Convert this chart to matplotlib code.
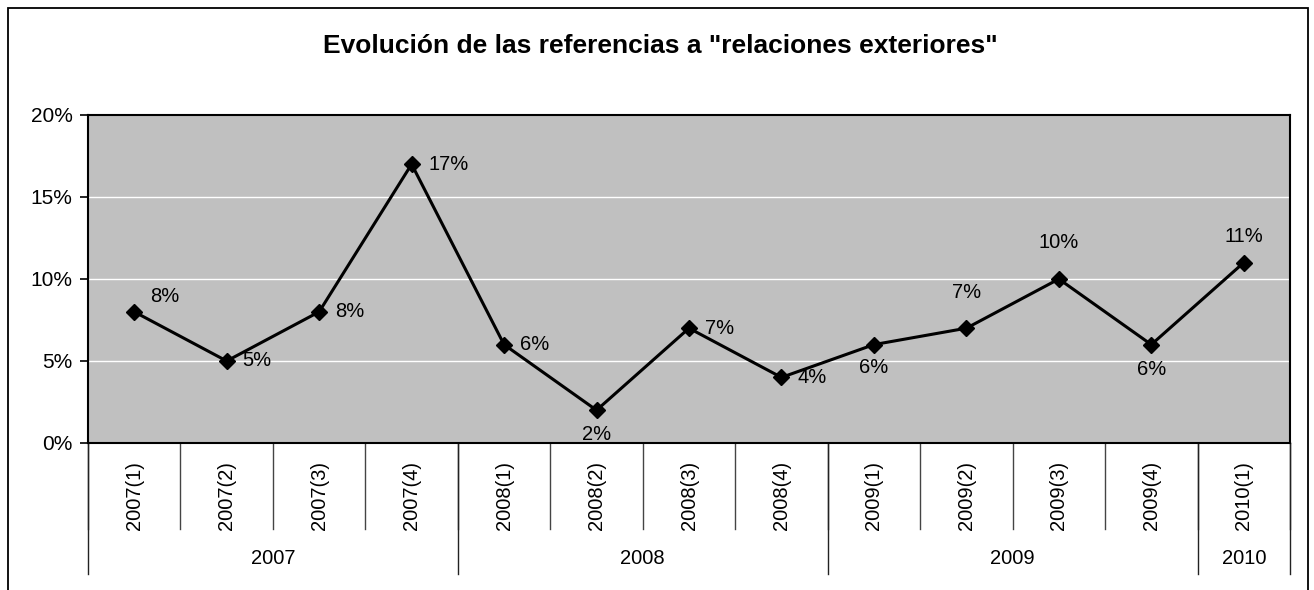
import matplotlib
matplotlib.use("Agg")
import matplotlib.pyplot as plt
from matplotlib.lines import Line2D
from matplotlib.patches import Rectangle
from matplotlib.ticker import FuncFormatter

plt.rcParams['font.family'] = ['Liberation Sans', 'DejaVu Sans']

# -----------------------------
# Data
# -----------------------------
quarters = ['2007(1)', '2007(2)', '2007(3)', '2007(4)',
            '2008(1)', '2008(2)', '2008(3)', '2008(4)',
            '2009(1)', '2009(2)', '2009(3)', '2009(4)',
            '2010(1)']
values = [8, 5, 8, 17, 6, 2, 7, 4, 6, 7, 10, 6, 11]
years = ['2007', '2008', '2009', '2010']
year_counts = [4, 4, 4, 1]
# label placement relative to each point (pixels)
label_offsets = [(31, 15), (30, 0), (31, 0), (37, 0), (31, 0), (0, -24), (31, 0),
                 (31, 0), (0, -23), (0, 36), (0, 37), (0, -25), (0, 26)]

W, H = 1314, 590
fig = plt.figure(figsize=(W / 100, H / 100), dpi=100)
fig.patch.set_facecolor('white')

# outer chart frame
fig.patches.append(Rectangle((8 / W, -0.05), (1308 - 8) / W, 1.05 - 8 / H,
                             transform=fig.transFigure, fill=False,
                             edgecolor='black', linewidth=1.3))

left, right, top, bottom = 88, 1290, 115, 443
ax = fig.add_axes([left / W, 1 - bottom / H, (right - left) / W, (bottom - top) / H])
ax.set_facecolor('#C0C0C0')

x = list(range(len(quarters)))
ax.plot(x, values, color='black', linewidth=2.2, marker='D', markersize=8.5,
        markerfacecolor='black', markeredgecolor='black', zorder=3)

for xi, v, (dx, dy) in zip(x, values, label_offsets):
    ax.annotate(f"{v}%", (xi, v), xytext=(dx, dy), textcoords='offset pixels',
                ha='center', va='center', fontsize=14.5, color='black')

ax.set_xlim(-0.5, len(quarters) - 0.5)
ax.set_ylim(0, 20)
ax.set_yticks([0, 5, 10, 15, 20])
ax.yaxis.set_major_formatter(FuncFormatter(lambda v, p: f"{v:.0f}%"))
ax.tick_params(axis='y', labelsize=15, length=6, width=1.2, direction='out', pad=5)
ax.set_xticks([])
for yv in [5, 10, 15]:
    ax.axhline(yv, color='white', linewidth=1.0, zorder=1)
for s in ax.spines.values():
    s.set_color('black')
    s.set_linewidth(1.5)

# multi-level category axis
tr = ax.get_xaxis_transform()
ax_h = bottom - top
short_y = -(529 - bottom) / ax_h
long_y = -(574 - bottom) / ax_h
for i in range(len(quarters) + 1):
    ax.add_line(Line2D([i - 0.5, i - 0.5], [0, short_y], transform=tr,
                       color='#444444', linewidth=1.0, clip_on=False))
for xi, q in zip(x, quarters):
    ax.text(xi, -(461 - bottom) / ax_h, q, transform=tr, rotation=90,
            ha='center', va='top', fontsize=14.5)

start = 0
bounds = [0]
for yr, n in zip(years, year_counts):
    ax.text(start + n / 2 - 0.5, -(558 - bottom) / ax_h, yr, transform=tr,
            ha='center', va='center', fontsize=14.5)
    start += n
    bounds.append(start)
for b in bounds:
    ax.add_line(Line2D([b - 0.5, b - 0.5], [0, long_y], transform=tr,
                       color='#222222', linewidth=1.0, clip_on=False))

fig.text(660 / W, 1 - 53 / H, 'Evolución de las referencias a "relaciones exteriores"',
         ha='center', va='baseline', fontsize=19, fontweight='bold')

fig.savefig('out.png', dpi=100)
